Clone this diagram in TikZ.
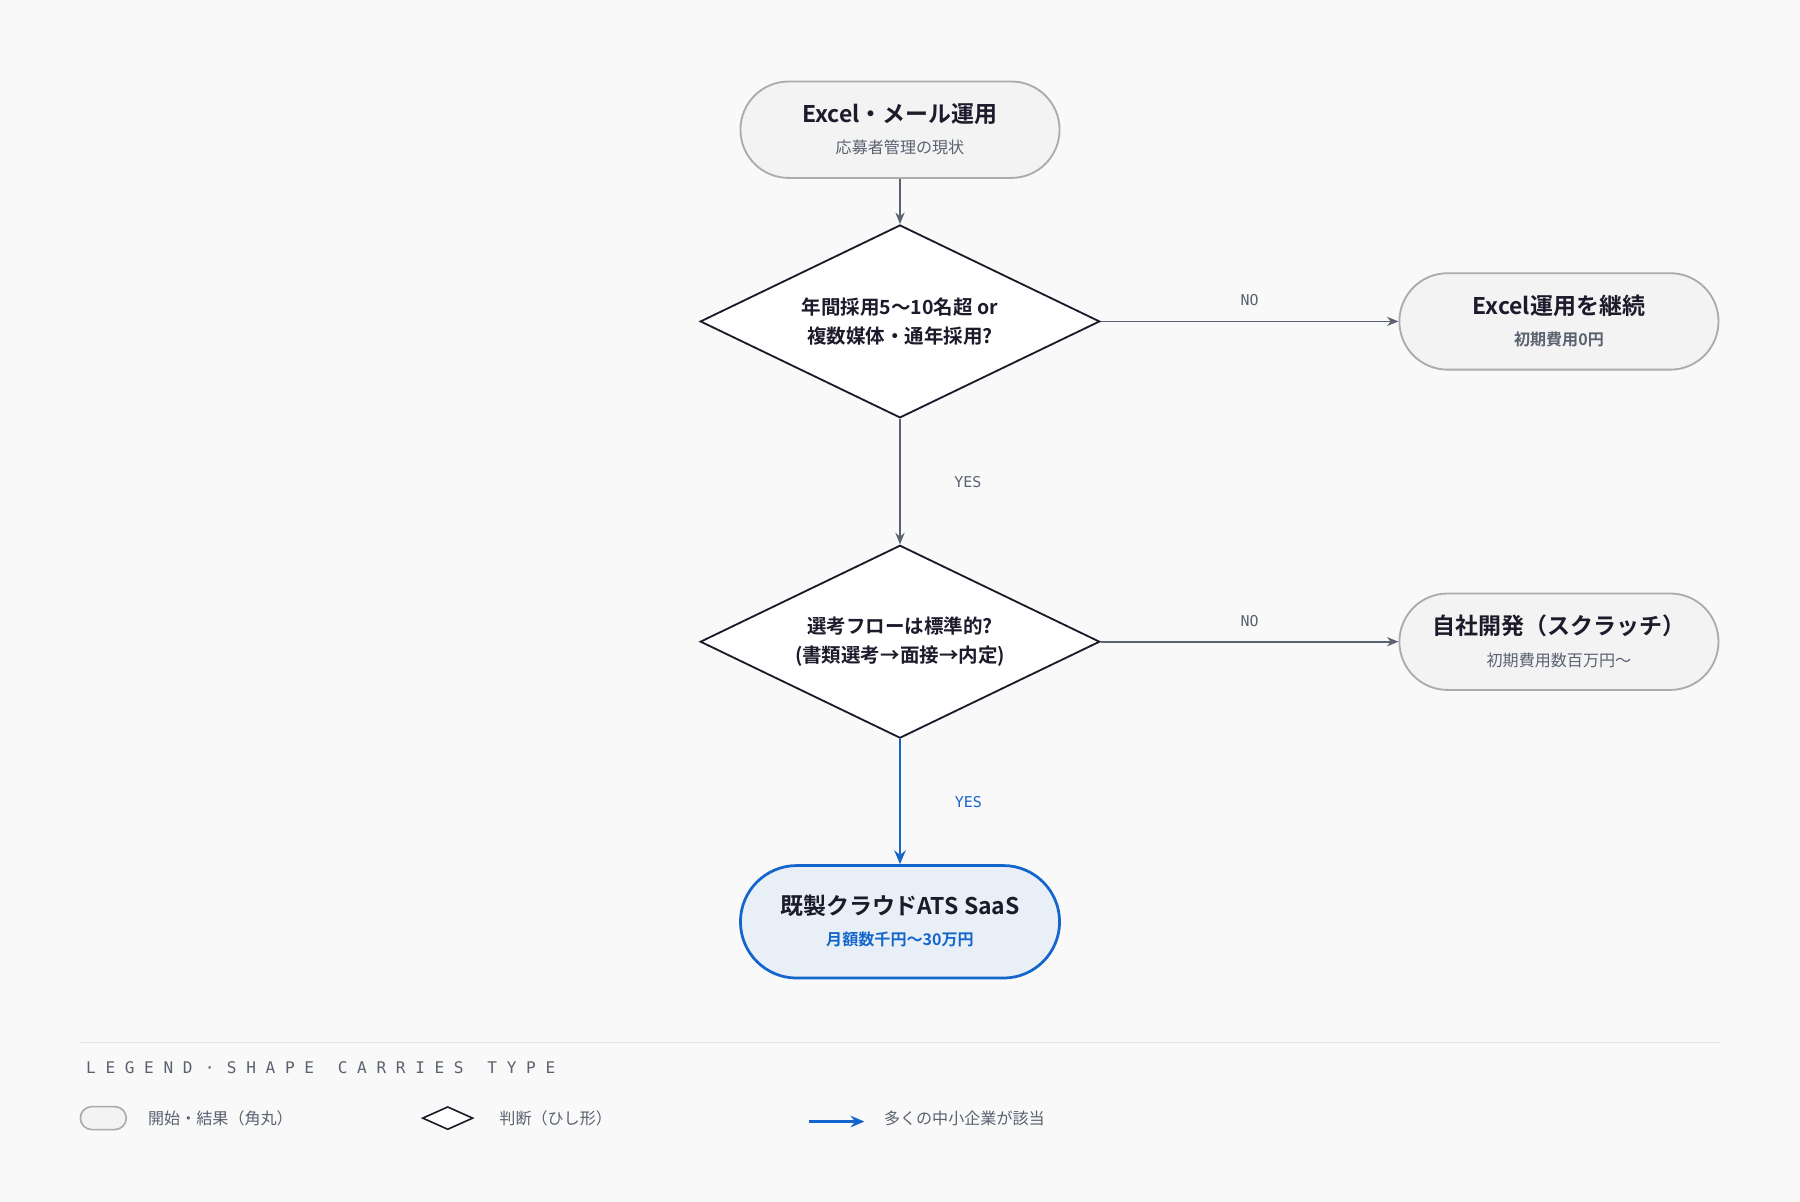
\documentclass[tikz,border=0pt]{standalone}
\usepackage{fontspec}
\setmainfont{Noto Sans CJK JP}[BoldFont={Noto Sans CJK JP Bold}]
\newfontfamily\monof{DejaVu Sans Mono}
\usetikzlibrary{shapes.geometric,arrows.meta}
\definecolor{bg}{HTML}{F9F9F9}
\definecolor{pillfill}{HTML}{F3F3F3}
\definecolor{pilldraw}{HTML}{ABABAB}
\definecolor{ink}{HTML}{1B1B2B}
\definecolor{sub}{HTML}{5A6270}
\definecolor{arr}{HTML}{5A6270}
\definecolor{blu}{HTML}{1466CC}
\definecolor{blufill}{HTML}{E8EFF7}
\begin{document}
\begin{tikzpicture}[x=0.5pt,y=-0.5pt,
  pill/.style={rounded rectangle, draw=pilldraw, fill=pillfill, line width=0.8pt, minimum width=139pt, minimum height=42pt, inner sep=0pt},
  dia/.style={diamond, draw=ink, fill=white, line width=0.8pt, minimum width=174pt, minimum height=84pt, aspect=2.07, inner sep=0pt},
  ttl/.style={font=\bfseries\fontsize{10}{12}\selectfont, text=ink},
  sb/.style={font=\fontsize{7}{9}\selectfont, text=sub},
  conn/.style={draw=arr, line width=0.7pt, -{Stealth[length=5pt,width=4pt]}},
  lab/.style={font=\monof\fontsize{6.5}{8}\selectfont, text=sub}]
\useasboundingbox[fill=bg] (0,0) rectangle (1568,1047);
\usetikzlibrary{shapes.misc}
\node[pill] (start) at (784,113) {};
\node[ttl] at (784,99) {Excel・メール運用};
\node[sb] at (784,128) {応募者管理の現状};
\node[dia] (d1) at (784,280) {};
\node[font=\bfseries\fontsize{8.5}{12.5}\selectfont, text=ink, align=center] at (784,280) {年間採用5〜10名超 or\\複数媒体・通年採用?};
\node[pill] (keep) at (1358,280) {};
\node[ttl] at (1358,266) {Excel運用を継続};
\node[sb, font=\bfseries\fontsize{7}{9}\selectfont] at (1358,296) {初期費用0円};
\node[dia] (d2) at (784,559) {};
\node[font=\bfseries\fontsize{8.5}{12.5}\selectfont, text=ink, align=center] at (784,559) {選考フローは標準的?\\(書類選考→面接→内定)};
\node[pill] (dev) at (1358,559) {};
\node[ttl] at (1358,545) {自社開発（スクラッチ）};
\node[sb] at (1358,575) {初期費用数百万円〜};
\node[pill, draw=blu, fill=blufill, line width=1.2pt, minimum height=49pt] (ats) at (784,803) {};
\node[ttl] at (784,789) {既製クラウドATS SaaS};
\node[font=\bfseries\fontsize{7}{9}\selectfont, text=blu] at (784,818) {月額数千円〜30万円};
\draw[conn] (start) -- (d1);
\draw[conn] (d1) -- node[lab, right=20pt, pos=0.5] {YES} (d2);
\draw[conn] (d1.east) -- node[lab, above=3pt, pos=0.5] {NO} (keep);
\draw[conn] (d2.east) -- node[lab, above=3pt, pos=0.5] {NO} (dev);
\draw[draw=blu, line width=1.2pt, -{Stealth[length=6pt,width=5pt]}] (d2) -- node[lab, text=blu, right=20pt, pos=0.5] {YES} (ats);
\draw[draw=black!10, line width=0.5pt] (70,908) -- (1498,908);
\node[lab, anchor=west, font=\monof\fontsize{7}{9}\selectfont] at (68,930) {L E G E N D \,·\, S H A P E \; C A R R I E S \; T Y P E};
\node[rounded rectangle, draw=pilldraw, fill=pillfill, line width=0.7pt, minimum width=20pt, minimum height=10pt, inner sep=0pt] (lp) at (90,974) {};
\node[sb, anchor=west] (lpt) at (122,974) {開始・結果（角丸）};
\node[diamond, draw=ink, fill=white, line width=0.7pt, minimum width=22pt, minimum height=10pt, aspect=2.2, inner sep=0pt] (ld) at (390,974) {};
\node[sb, anchor=west] (ldt) at (428,974) {判断（ひし形）};
\coordinate (la1) at (705,977);
\coordinate (la2) at (753,977);
\draw[draw=blu, line width=1.2pt, -{Stealth[length=6pt,width=5pt]}] (la1) -- (la2);
\node[sb, anchor=west] (lat) at (763,974) {多くの中小企業が該当};
\end{tikzpicture}
\end{document}
